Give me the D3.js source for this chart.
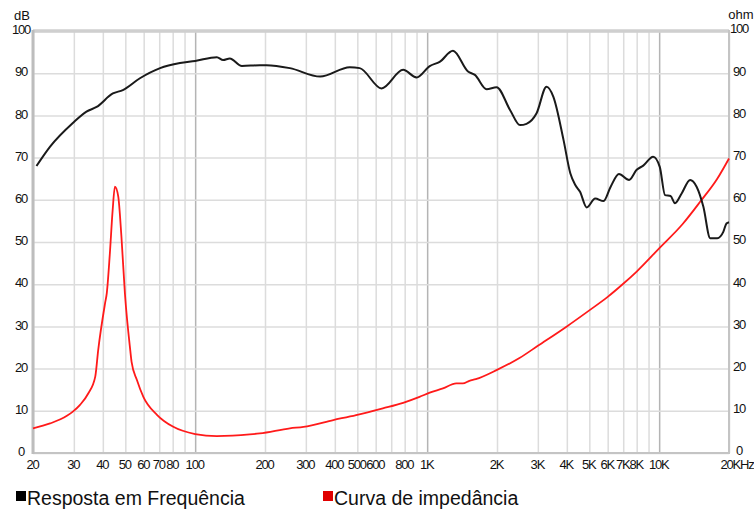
<!DOCTYPE html>
<html>
<head>
<meta charset="utf-8">
<script src="https://cdn.jsdelivr.net/npm/d3@7.9.0/dist/d3.min.js"></script>
<style>
  body { margin: 0; background: #fff; }
  svg { display: block; font-family: Arial, "Liberation Sans", sans-serif; }
  .tick text { font-size: 13px; letter-spacing: -1.2px; fill: #111; }
  .legend text { font-size: 19.5px; fill: #111; }
</style>
</head>
<body>
<div id="chart"></div>
<script>
// frequency response (dB)
const spkFreq = [20.7, 23.7, 29.7, 34, 37.6, 44.2, 48.8, 57.8, 70.6, 86, 100, 124, 132, 141, 159, 190, 203, 256, 346, 464, 512, 636, 788, 900, 1026, 1132, 1292, 1500, 1606, 1804, 1992, 2276, 2514, 2680, 2962, 3270, 3500, 3870, 4140, 4350, 4560, 4870, 5300, 5760, 6180, 6710, 7420, 8000, 8540, 9420, 10060, 10600, 11200, 11700, 12500, 13600, 14500, 15500, 16600, 17800, 18900, 19500, 20000];
const spkDb   = [68.0, 72.6, 78.2, 80.9, 82.0, 85.2, 86.0, 88.8, 91.2, 92.4, 92.9, 93.8, 93.1, 93.5, 91.7, 91.9, 91.9, 91.2, 89.2, 91.4, 91.2, 86.4, 90.8, 89.0, 91.7, 92.7, 95.3, 90.4, 89.6, 86.2, 86.7, 81.3, 77.7, 78.0, 80.5, 86.8, 84.4, 74.2, 66.3, 63.5, 61.9, 58.2, 60.3, 59.7, 63.1, 66.1, 64.7, 67.1, 68.1, 70.2, 67.8, 61.1, 60.9, 59.2, 61.5, 64.7, 63.1, 58.4, 50.9, 50.9, 52.4, 54.4, 54.7];

// impedance (ohm)
const impFreq = [20, 23.7, 28, 29.7, 31.9, 34.6, 37.1, 38.2, 40.9, 41.6, 42.9, 44.1, 45.1, 46.6, 48.1, 49.8, 52.5, 53.2, 56.1, 59.8, 68.6, 80.5, 100, 124, 172, 190, 256, 293, 394, 494, 644, 788, 927, 1026, 1170, 1335, 1425, 1520, 1620, 2000, 2500, 3000, 4000, 5000, 6000, 7000, 8000, 10000, 12600, 15100, 17800, 20000];
const impOhm  = [5.85, 7.0, 8.8, 9.8, 11.4, 14.1, 18.1, 24.4, 35.5, 37.9, 47.4, 57.6, 63.1, 60.8, 51.3, 37.8, 24.4, 21.6, 17.3, 13.3, 9.0, 6.2, 4.5, 4.0, 4.4, 4.65, 5.85, 6.2, 7.8, 9.0, 10.6, 11.9, 13.3, 14.3, 15.3, 16.5, 16.5, 17.1, 17.5, 19.7, 22.5, 25.4, 30.0, 33.8, 37.0, 40.1, 43.0, 48.5, 54.2, 59.7, 65.0, 69.8];

const gridFreqs = [20, 30, 40, 50, 60, 70, 80, 90, 100, 200, 300, 400, 500, 600, 700, 800, 900,
  1000, 2000, 3000, 4000, 5000, 6000, 7000, 8000, 9000, 10000, 20000];
const majorFreqs = [100, 1000, 10000];
const xTickFreqs  = [20, 30, 40, 50, 60, 70, 80, 100, 200, 300, 400, 500, 600, 800, 1000, 2000, 3000, 4000, 5000, 6000, 7000, 8000, 10000, 20000];
const xTickLabels = ['20', '30', '40', '50', '60', '70', '80', '100', '200', '300', '400', '500', '600', '800', '1K', '2K', '3K', '4K', '5K', '6K', '7K', '8K', '10K', '20KHz'];
const yTicks = d3.range(0, 101, 10);

const legendItems = [
  { label: 'Resposta em Frequência', color: '#000' },
  { label: 'Curva de impedância', color: '#e00000' }
];

const width = 754, height = 510;
const plot = { left: 33, right: 729, top: 31, bottom: 453 };

const svg = d3.select('#chart').append('svg')
  .attr('width', width)
  .attr('height', height);

const x = d3.scaleLog().domain([20, 20000]).range([plot.left, plot.right]);
const y = d3.scaleLinear().domain([0, 100]).range([plot.bottom, plot.top]);

// grid
svg.append('g')
  .attr('transform', `translate(0,${plot.bottom})`)
  .call(d3.axisBottom(x).tickValues(gridFreqs).tickFormat('').tickSize(-(plot.bottom - plot.top)))
  .call(g => g.select('.domain').remove())
  .call(g => g.selectAll('.tick line')
    .attr('stroke', d => majorFreqs.includes(d) ? '#b4b4b4' : '#dcdcdc')
    .attr('stroke-width', 1.5));

svg.append('g')
  .attr('transform', `translate(${plot.left},0)`)
  .call(d3.axisLeft(y).tickValues(yTicks).tickFormat('').tickSize(-(plot.right - plot.left)))
  .call(g => g.select('.domain').remove())
  .call(g => g.selectAll('.tick line').attr('stroke', '#dcdcdc').attr('stroke-width', 1.5));

// frame
svg.append('line').attr('x1', plot.left).attr('x2', plot.right).attr('y1', plot.top).attr('y2', plot.top)
  .attr('stroke', '#cfcfcf').attr('stroke-width', 3.5);
svg.append('line').attr('x1', plot.left).attr('x2', plot.right).attr('y1', plot.bottom).attr('y2', plot.bottom)
  .attr('stroke', '#c4c4c4').attr('stroke-width', 2);
svg.append('line').attr('x1', plot.left).attr('x2', plot.left).attr('y1', plot.top - 1).attr('y2', plot.bottom + 1)
  .attr('stroke', '#bdbdbd').attr('stroke-width', 3);
svg.append('line').attr('x1', plot.right).attr('x2', plot.right).attr('y1', plot.top - 1).attr('y2', plot.bottom + 1)
  .attr('stroke', '#c4c4c4').attr('stroke-width', 2);

// axis labels
svg.append('g')
  .attr('transform', `translate(${plot.left},0)`)
  .call(d3.axisLeft(y).tickValues(yTicks).tickSize(0))
  .call(g => g.select('.domain').remove())
  .call(g => g.selectAll('.tick text').attr('x', -12).attr('dy', '0.2em').attr('text-anchor', 'middle'));

svg.append('g')
  .attr('transform', `translate(${plot.right},0)`)
  .call(d3.axisRight(y).tickValues(yTicks).tickSize(0))
  .call(g => g.select('.domain').remove())
  .call(g => g.selectAll('.tick text').attr('x', 10).attr('dy', '0.15em').attr('text-anchor', 'middle'));

svg.append('g')
  .attr('transform', `translate(0,${plot.bottom})`)
  .call(d3.axisBottom(x).tickValues(xTickFreqs).tickSize(0)
    .tickFormat((d, i) => xTickLabels[i]))
  .call(g => g.select('.domain').remove())
  .call(g => g.selectAll('.tick text').attr('y', 6.5).attr('dx', -1))
  .call(g => g.selectAll('.tick text').filter(d => d === 20000).attr('text-anchor', 'start').attr('dx', -9));

svg.append('text').attr('x', 22).attr('y', 20).attr('text-anchor', 'middle')
  .style('font-size', '13px').style('fill', '#111').text('dB');
svg.append('text').attr('x', 741).attr('y', 19).attr('text-anchor', 'middle')
  .style('font-size', '13px').style('fill', '#111').text('ohm');

// curves
const spkLine = d3.line()
  .x((d, i) => x(spkFreq[i]))
  .y(d => y(d))
  .curve(d3.curveMonotoneX);
const impLine = d3.line()
  .x((d, i) => x(impFreq[i]))
  .y(d => y(d))
  .curve(d3.curveMonotoneX);

svg.append('path')
  .attr('d', impLine(impOhm))
  .attr('fill', 'none')
  .attr('stroke', '#ff1a1a')
  .attr('stroke-width', 1.8)
  .attr('stroke-linejoin', 'round');

svg.append('path')
  .attr('d', spkLine(spkDb))
  .attr('fill', 'none')
  .attr('stroke', '#1a1a1a')
  .attr('stroke-width', 2)
  .attr('stroke-linejoin', 'round');

// legend
const legendX = [16, 323];
const legend = svg.append('g').attr('class', 'legend')
  .selectAll('g')
  .data(legendItems)
  .join('g')
  .attr('transform', (d, i) => `translate(${legendX[i]},491)`);
legend.append('rect').attr('width', 10).attr('height', 10).attr('fill', d => d.color);
legend.append('text').attr('x', 11).attr('y', 13.5).text(d => d.label);
</script>
</body>
</html>
